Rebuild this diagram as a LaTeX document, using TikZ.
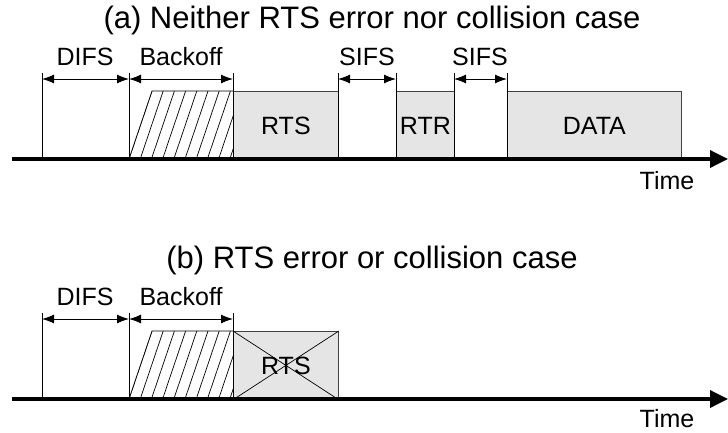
\documentclass[tikz,border=0pt]{standalone}
\usepackage{fontspec}
\setmainfont{Liberation Sans}
\usetikzlibrary{arrows.meta}
\begin{document}
\begin{tikzpicture}[x=1pt,y=-1pt,
  framebox/.style={draw=black!75, line width=0.8pt, fill=black!10, inner sep=0pt,
    anchor=north west, font=\fontsize{25}{29}\selectfont},
  tick/.style={draw=black, line width=0.7pt},
  dim/.style={{Latex[length=12pt,width=9pt]}-{Latex[length=12pt,width=9pt]}, line width=1pt},
  axis/.style={line width=3.5pt, -{Triangle[length=18pt,width=17pt]}},
  lbl/.style={font=\fontsize{25}{29}\selectfont, anchor=base, inner sep=0pt},
  ttl/.style={font=\fontsize{31}{36}\selectfont, anchor=base, inner sep=0pt},
  hatch/.style={line width=0.7pt}]
\useasboundingbox (0,0) rectangle (728,432);

% ---------- (a) ----------
\node[ttl] (ta) at (372,28) {(a) Neither RTS error nor collision case};

\node[framebox, minimum width=105pt, minimum height=68pt] (rtsa) at (233,91) {RTS};
\node[framebox, minimum width=58pt, minimum height=68pt] (rtr) at (396,91) {RTR};
\node[framebox, minimum width=174pt, minimum height=68pt] (data) at (507,91) {DATA};

\begin{scope}
  \clip (129,159) -- (233,159) -- (233,91) -- (152,91) -- cycle;
  \foreach \k in {0,...,9} \draw[hatch] (129+\k*11.2,159) -- ++(23,-68);
\end{scope}
\draw[hatch] (129,159) -- (152,91) -- (233,91);

\foreach \n/\x in {0/42,1/129,2/233,3/338,4/396,5/454,6/507} {
  \coordinate (a\n) at (\x,73);
  \coordinate (ab\n) at (\x,159);
  \coordinate (am\n) at (\x,79);
}
\foreach \n in {0,...,6} \draw[tick] (a\n) -- (ab\n);

\draw[dim] (am0) -- (am1);
\draw[dim] (am1) -- (am2);
\draw[dim] (am3) -- (am4);
\draw[dim] (am5) -- (am6);

\node[lbl] (difsa) at (85,65) {DIFS};
\node[lbl] (backa) at (181,65) {Backoff};
\node[lbl] (sifs1) at (367,65) {SIFS};
\node[lbl] (sifs2) at (480,65) {SIFS};

\coordinate (sa) at (12,159);
\coordinate (ea) at (728,159);
\draw[axis] (sa) -- (ea);
\node[lbl] (timea) at (667,189) {Time};

% ---------- (b) ----------
\node[ttl] (tb) at (372,268) {(b) RTS error or collision case};

\node[framebox, minimum width=105pt, minimum height=68pt] (rtsb) at (233,331) {RTS};
\draw[line width=0.7pt] (rtsb.north west) -- (rtsb.south east);
\draw[line width=0.7pt] (rtsb.south west) -- (rtsb.north east);

\begin{scope}
  \clip (129,399) -- (233,399) -- (233,331) -- (152,331) -- cycle;
  \foreach \k in {0,...,9} \draw[hatch] (129+\k*11.2,399) -- ++(23,-68);
\end{scope}
\draw[hatch] (129,399) -- (152,331) -- (233,331);

\foreach \n/\x in {0/42,1/129,2/233} {
  \coordinate (b\n) at (\x,313);
  \coordinate (bb\n) at (\x,399);
  \coordinate (bm\n) at (\x,319);
}
\foreach \n in {0,...,2} \draw[tick] (b\n) -- (bb\n);

\draw[dim] (bm0) -- (bm1);
\draw[dim] (bm1) -- (bm2);

\node[lbl] (difsb) at (85,305) {DIFS};
\node[lbl] (backb) at (181,305) {Backoff};

\coordinate (sb) at (12,399);
\coordinate (eb) at (728,399);
\draw[axis] (sb) -- (eb);
\node[lbl] (timeb) at (667,427) {Time};
\end{tikzpicture}
\end{document}
